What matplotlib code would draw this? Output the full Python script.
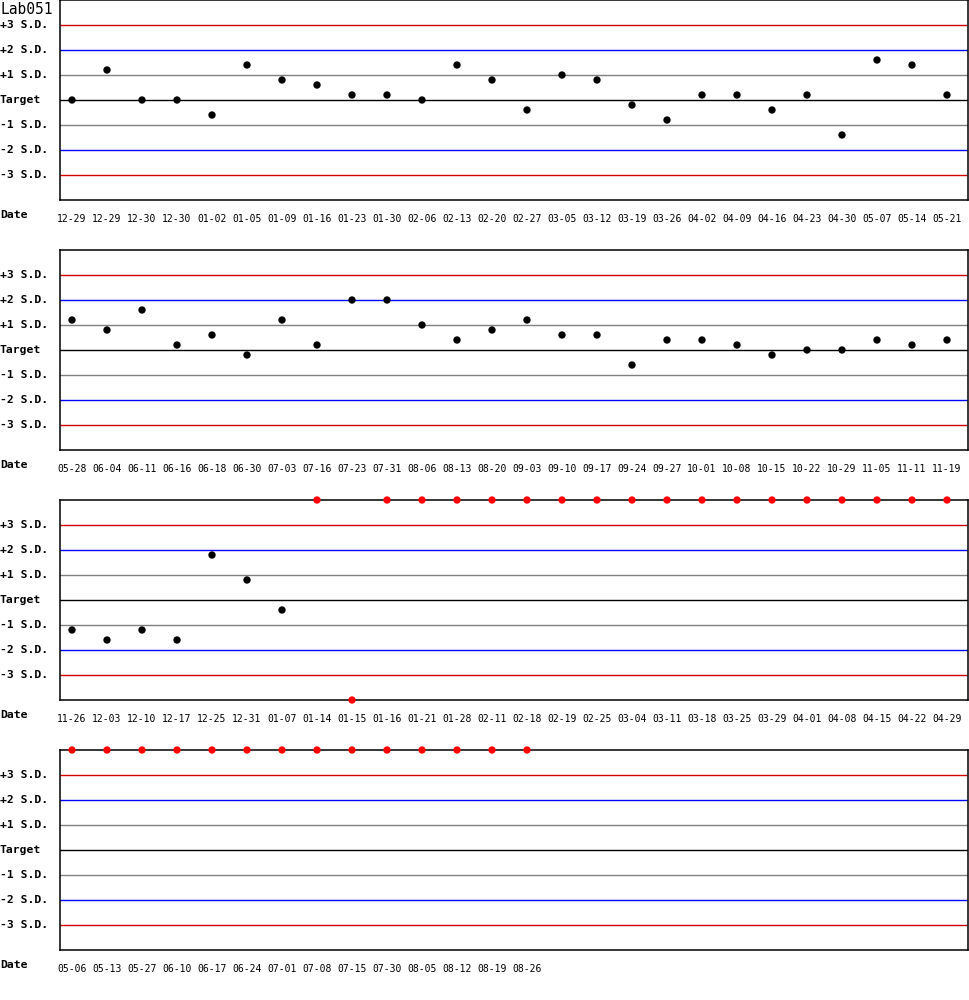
import matplotlib
matplotlib.use('Agg')
import matplotlib.pyplot as plt
from matplotlib.transforms import blended_transform_factory

# dates per row of the chart
dates1 = ['12-29', '12-29', '12-30', '12-30', '01-02', '01-05', '01-09', '01-16', '01-23',
          '01-30', '02-06', '02-13', '02-20', '02-27', '03-05', '03-12', '03-19', '03-26',
          '04-02', '04-09', '04-16', '04-23', '04-30', '05-07', '05-14', '05-21']
dates2 = ['05-28', '06-04', '06-11', '06-16', '06-18', '06-30', '07-03', '07-16', '07-23',
          '07-31', '08-06', '08-13', '08-20', '09-03', '09-10', '09-17', '09-24', '09-27',
          '10-01', '10-08', '10-15', '10-22', '10-29', '11-05', '11-11', '11-19']
dates3 = ['11-26', '12-03', '12-10', '12-17', '12-25', '12-31', '01-07', '01-14', '01-15',
          '01-16', '01-21', '01-28', '02-11', '02-18', '02-19', '02-25', '03-04', '03-11',
          '03-18', '03-25', '03-29', '04-01', '04-08', '04-15', '04-22', '04-29']
dates4 = ['05-06', '05-13', '05-27', '06-10', '06-17', '06-24', '07-01', '07-08', '07-15',
          '07-30', '08-05', '08-12', '08-19', '08-26']

# values in S.D. from target; +-4 means off the chart (shown red on the border)
sd1 = [0, 1.2, 0, 0, -0.6, 1.4, 0.8, 0.6, 0.2, 0.2, 0, 1.4, 0.8, -0.4, 1.0, 0.8, -0.2, -0.8,
       0.2, 0.2, -0.4, 0.2, -1.4, 1.6, 1.4, 0.2]
sd2 = [1.2, 0.8, 1.6, 0.2, 0.6, -0.2, 1.2, 0.2, 2.0, 2.0, 1.0, 0.4, 0.8, 1.2, 0.6, 0.6, -0.6,
       0.4, 0.4, 0.2, -0.2, 0, 0, 0.4, 0.2, 0.4]
sd3 = [-1.2, -1.6, -1.2, -1.6, 1.8, 0.8, -0.4, 4, -4, 4, 4, 4, 4, 4, 4, 4, 4, 4, 4, 4, 4, 4,
       4, 4, 4, 4]
sd4 = [4, 4, 4, 4, 4, 4, 4, 4, 4, 4, 4, 4, 4, 4]

levels = [3, 2, 1, 0, -1, -2, -3]
level_labels = ['+3 S.D.', '+2 S.D.', '+1 S.D.', 'Target', '-1 S.D.', '-2 S.D.', '-3 S.D.']
level_colors = ['#d00000', '#0000ff', '#808080', '#000000', '#808080', '#0000ff', '#d00000']

W, H = 970, 1000
fig = plt.figure(figsize=(W / 100, H / 100), dpi=100)
mono = 'DejaVu Sans Mono'

rows = [(dates1, sd1), (dates2, sd2), (dates3, sd3), (dates4, sd4)]
for k, (dates, sd) in enumerate(rows):
    top = 250 * k
    ax = fig.add_axes([60 / W, 1 - (top + 200) / H, 908 / W, 200 / H])
    ax.set_xlim(-12 / 35, 896 / 35)
    ax.set_ylim(-4, 4)
    for lv, c in zip(levels, level_colors):
        ax.axhline(lv, color=c, lw=1.0)
    x = list(range(len(dates)))
    cols = ['red' if abs(v) >= 4 else 'black' for v in sd]
    ax.scatter(x, sd, s=28, c=cols, zorder=5, clip_on=False, linewidths=0)
    ax.set_yticks([])
    ax.set_xticks(x)
    ax.set_xticklabels(dates, family=mono, fontsize=7.0)
    ax.tick_params(axis='x', length=0, pad=10)
    for sp in ax.spines.values():
        sp.set_linewidth(1.1)
    tr = blended_transform_factory(fig.transFigure, ax.transData)
    for lv, lab in zip(levels, level_labels):
        ax.text(0, lv, lab, transform=tr, ha='left', va='center', family=mono,
                fontsize=8.2, fontweight='bold')
    fig.text(0, 1 - (top + 215) / H, 'Date', ha='left', va='center', family=mono,
             fontsize=8.2, fontweight='bold')

fig.text(0, 1 - 9 / H, 'Lab051', ha='left', va='center', family=mono, fontsize=10.5)

fig.savefig('out.png', dpi=100)
